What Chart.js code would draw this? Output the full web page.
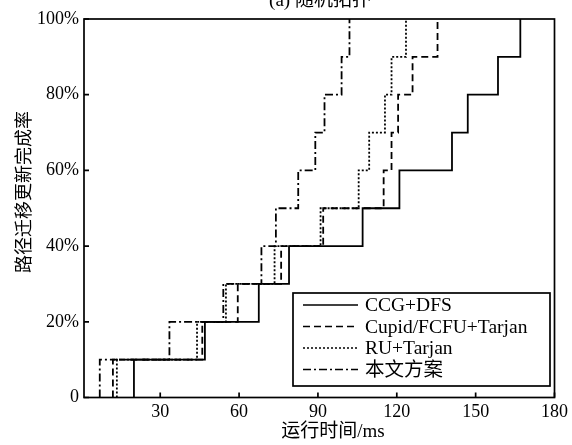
<!DOCTYPE html>
<html>
<head>
<meta charset="utf-8">
<script src="https://cdn.jsdelivr.net/npm/chart.js@4/dist/chart.umd.min.js"></script>
<style>
    html, body { margin: 0; padding: 0; background: #fff; }
</style>
</head>
<body>
<canvas id="cdfChart" width="572" height="445"></canvas>
<script>
// completion rate reached after each step (%)
const rates = [10, 20, 30, 40, 50, 60, 70, 80, 90, 100];

// running time (ms) at which each rate is reached
const ccgDfs      = [20, 47, 67.5, 79, 107, 121, 141, 147, 158.5, 167];
const cupidTarjan = [12, 46, 59.5, 76, 92, 115, 118, 120.5, 126, 135.5];
const ruTarjan    = [13.5, 44, 55, 73.5, 91, 105.5, 109.5, 115.5, 118, 123.5];
const ourScheme   = [7, 33.5, 54, 68.5, 74, 82.5, 89, 92.5, 99, 102];

const seriesNames = ['CCG+DFS', 'Cupid/FCFU+Tarjan', 'RU+Tarjan', '本文方案'];
const xTicks = [30, 60, 90, 120, 150, 180];
const yTicks = [0, 20, 40, 60, 80, 100];

const SERIF = '"Liberation Serif", "Noto Sans CJK SC", serif';

function stepData(times) {
    const pts = [{ x: times[0], y: 0 }];
    times.forEach((t, i) => pts.push({ x: t, y: rates[i] }));
    return pts;
}

function makeDataset(label, times, dash) {
    return {
        label: label,
        data: stepData(times),
        borderColor: '#000',
        borderWidth: 1.8,
        borderDash: dash,
        pointRadius: 0,
        stepped: 'before',
        fill: false
    };
}

// frame, inner ticks, titles and legend
const decorations = {
    id: 'decorations',
    afterDraw(chart) {
        const ctx = chart.ctx;
        const area = chart.chartArea;
        const xs = chart.scales.x;
        const ys = chart.scales.y;

        ctx.save();
        ctx.strokeStyle = '#000';
        ctx.lineWidth = 1.7;
        ctx.setLineDash([]);
        ctx.strokeRect(area.left, area.top, area.right - area.left, area.bottom - area.top);

        ctx.beginPath();
        xTicks.forEach(v => {
            const px = xs.getPixelForValue(v);
            ctx.moveTo(px, area.bottom);
            ctx.lineTo(px, area.bottom - 5);
        });
        yTicks.forEach(v => {
            const py = ys.getPixelForValue(v);
            ctx.moveTo(area.left, py);
            ctx.lineTo(area.left + 5, py);
        });
        ctx.stroke();

        // titles
        ctx.fillStyle = '#000';
        ctx.textAlign = 'center';
        ctx.textBaseline = 'middle';
        ctx.font = '19px ' + SERIF;
        ctx.fillText('(a) 随机拓扑', 320, 1);
        ctx.fillText('运行时间/ms', 333, 432);

        ctx.save();
        ctx.translate(25, 192);
        ctx.rotate(-Math.PI / 2);
        ctx.font = '18px ' + SERIF;
        ctx.fillText('路径迁移更新完成率', 0, 0);
        ctx.restore();

        // legend
        const lx = 293, ly = 293, lw = 257, lh = 93;
        ctx.fillStyle = '#fff';
        ctx.fillRect(lx, ly, lw, lh);
        ctx.lineWidth = 1.7;
        ctx.strokeRect(lx, ly, lw, lh);
        ctx.font = '19.5px ' + SERIF;
        ctx.textAlign = 'left';
        chart.data.datasets.forEach((ds, i) => {
            const y = 305 + i * 21.5;
            ctx.beginPath();
            ctx.setLineDash(ds.borderDash || []);
            ctx.lineWidth = 1.5;
            ctx.moveTo(303, y);
            ctx.lineTo(358, y);
            ctx.stroke();
            ctx.setLineDash([]);
            ctx.fillStyle = '#000';
            ctx.fillText(ds.label, 365, y + 1);
        });
        ctx.restore();
    }
};

const ctx = document.getElementById('cdfChart').getContext('2d');
new Chart(ctx, {
    type: 'line',
    data: {
        datasets: [
            makeDataset(seriesNames[0], ccgDfs, []),
            makeDataset(seriesNames[1], cupidTarjan, [7, 4]),
            makeDataset(seriesNames[2], ruTarjan, [2, 2]),
            makeDataset(seriesNames[3], ourScheme, [8, 3, 2, 3])
        ]
    },
    options: {
        responsive: false,
        animation: false,
        devicePixelRatio: 1,
        layout: { padding: { left: 0, right: 15, top: 19, bottom: 0 } },
        plugins: {
            legend: { display: false },
            tooltip: { enabled: false }
        },
        scales: {
            x: {
                type: 'linear',
                min: 1,
                max: 180,
                afterBuildTicks: s => { s.ticks = xTicks.map(v => ({ value: v })); },
                afterFit: s => { s.height = 47.5; },
                grid: { display: false, drawTicks: false },
                border: { display: false },
                ticks: {
                    color: '#000',
                    font: { family: SERIF, size: 18 },
                    padding: 4,
                    maxRotation: 0,
                    autoSkip: false
                }
            },
            y: {
                type: 'linear',
                min: 0,
                max: 100,
                afterBuildTicks: s => { s.ticks = yTicks.map(v => ({ value: v })); },
                afterFit: s => { s.width = 84; },
                grid: { display: false, drawTicks: false },
                border: { display: false },
                ticks: {
                    color: '#000',
                    font: { family: SERIF, size: 18 },
                    padding: 5,
                    callback: v => (v === 0 ? '0' : v + '%')
                }
            }
        }
    },
    plugins: [decorations]
});
</script>
</body>
</html>
